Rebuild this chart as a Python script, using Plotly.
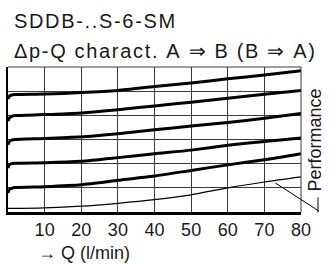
import plotly.graph_objects as go

# Flow Q (l/min) and pressure-drop curves (grid units, unlabeled axis)
q_thick = [0, 0.3, 1, 2, 10, 20, 30, 40, 50, 60, 70, 80]
curve1 = [4.68, 4.78, 4.84, 4.86, 4.88, 4.94, 5.03, 5.19, 5.34, 5.51, 5.67, 5.85]
curve2 = [3.76, 3.88, 3.96, 3.99, 4.03, 4.10, 4.23, 4.39, 4.54, 4.71, 4.87, 5.03]
curve3 = [2.78, 2.90, 2.97, 3.00, 3.04, 3.11, 3.24, 3.40, 3.56, 3.70, 3.88, 4.08]
curve4 = [1.82, 1.94, 2.00, 2.02, 2.04, 2.10, 2.25, 2.41, 2.56, 2.76, 2.92, 3.06]
curve5 = [0.79, 0.92, 0.98, 1.01, 1.05, 1.13, 1.31, 1.49, 1.72, 1.95, 2.16, 2.41]

q_thin = [0, 10, 20, 30, 40, 50, 60, 70, 80]
limit_curve = [0.15, 0.17, 0.24, 0.36, 0.51, 0.71, 1.0, 1.24, 1.45]

tick_vals = [10, 20, 30, 40, 50, 60, 70, 80]
tick_text = ["10", "20", "30", "40", "50", "60", "70", "80"]

title1 = "SDDB-..S-6-SM"
title2 = "Δp-Q charact. A ⇒ B (B ⇒ A)"
x_label = "→ Q (l/min)"
perf_label = "Performance<br>limit"

FONT = "Liberation Sans, Arial, sans-serif"
TXT = "#1a1a1a"

fig = go.Figure()
for c in [curve1, curve2, curve3, curve4, curve5]:
    fig.add_trace(go.Scatter(x=q_thick, y=c, mode="lines",
                             line=dict(color="black", width=3, shape="spline", smoothing=0.6),
                             hoverinfo="skip", showlegend=False))
fig.add_trace(go.Scatter(x=q_thin, y=limit_curve, mode="lines",
                         line=dict(color="black", width=1.2, shape="spline", smoothing=0.8),
                         hoverinfo="skip", showlegend=False))

def spaced(s, sep="\u200a"):
    return sep.join(list(s))

fig.update_layout(
    width=330, height=264,
    margin=dict(l=8, r=29, t=67, b=51.5),
    paper_bgcolor="white", plot_bgcolor="white",
    font=dict(family=FONT, color=TXT, size=18),
    xaxis=dict(range=[0, 80], tickvals=tick_vals, ticktext=tick_text,
               showgrid=True, gridcolor="#3a3a3a", gridwidth=1, dtick=10,
               showline=True, linecolor="black", linewidth=2.5,
               ticks="", ticklen=0, zeroline=False,
               tickfont=dict(size=18, family=FONT, color=TXT)),
    yaxis=dict(range=[0, 6], dtick=1, tick0=0, showticklabels=False,
               showgrid=True, gridcolor="#3a3a3a", gridwidth=1,
               showline=True, linecolor="black", linewidth=2.5,
               ticks="", zeroline=False),
    shapes=[
        dict(type="line", xref="paper", yref="paper", x0=0, x1=1, y0=1, y1=1,
             line=dict(color="#3a3a3a", width=1)),
        dict(type="line", xref="paper", yref="paper", x0=1, x1=1, y0=0, y1=1,
             line=dict(color="#3a3a3a", width=1)),
        dict(type="line", xref="paper", yref="paper", x0=1.058, x1=1.058, y0=-0.003, y1=0.10,
             line=dict(color="black", width=1)),
    ],
    annotations=[
        dict(text=spaced(title1), xref="paper", yref="paper", x=(12 - 8) / 293, y=1 + (67 - 34) / 145.5,
             xanchor="left", yanchor="bottom", showarrow=False,
             font=dict(size=20, family=FONT, color=TXT)),
        dict(text=spaced(title2), xref="paper", yref="paper", x=(12 - 8) / 293, y=1 + (67 - 64) / 145.5,
             xanchor="left", yanchor="bottom", showarrow=False,
             font=dict(size=20, family=FONT, color=TXT)),
        dict(text=x_label, xref="paper", yref="paper", x=(36 - 8) / 293, y=-(242 - 212.5) / 145.5,
             xanchor="left", yanchor="top", showarrow=False,
             font=dict(size=18, family=FONT, color=TXT)),
        dict(text=perf_label, xref="paper", yref="paper", x=(303 - 8) / 293, y=(212.5 - 194) / 145.5,
             xanchor="left", yanchor="bottom", align="left", textangle=-90, showarrow=False,
             font=dict(size=18, family=FONT, color=TXT)),
        dict(text="", x=73, y=1.2, xref="x", yref="y", showarrow=True, arrowhead=0,
             arrowwidth=1, arrowcolor="black", ax=45, ay=29),
    ],
)

fig.write_html("out.html", config={"displayModeBar": False, "staticPlot": True},
               post_script="document.body.style.margin='0';document.body.style.overflow='hidden';")
